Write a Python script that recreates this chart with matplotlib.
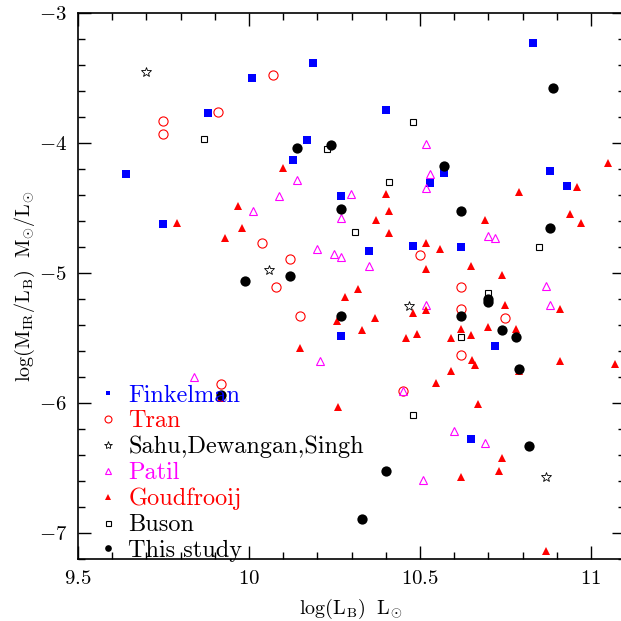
import matplotlib
matplotlib.use("Agg")
import matplotlib.pyplot as plt
from matplotlib.lines import Line2D
from matplotlib.ticker import FixedLocator, FixedFormatter, MultipleLocator

plt.rcParams['mathtext.fontset'] = 'cm'
plt.rcParams['font.family'] = ['cmr10', 'DejaVu Serif']
plt.rcParams['axes.unicode_minus'] = False

# ---------------- data ----------------
fink_x = [9.64, 9.748, 9.88, 10.009, 10.128, 10.169, 10.188, 10.268, 10.268, 10.351,
          10.40, 10.48, 10.529, 10.569, 10.62, 10.649, 10.719, 10.829, 10.88, 10.929]
fink_y = [-4.24, -4.626, -3.77, -3.505, -4.13, -3.98, -3.39, -4.41, -5.485, -4.83,
          -3.75, -4.79, -4.31, -4.235, -4.80, -6.277, -5.56, -3.23, -4.22, -4.33]

tran_x = [9.749, 9.749, 9.909, 9.919, 10.039, 10.069, 10.079, 10.12, 10.15, 10.449,
          10.50, 10.62, 10.62, 10.62, 10.75]
tran_y = [-3.83, -3.93, -3.76, -5.856, -4.77, -3.482, -5.11, -4.89, -5.33, -5.905,
          -4.864, -5.11, -5.28, -5.63, -5.343]

sahu_x = [9.699, 10.058, 10.469, 10.868]
sahu_y = [-3.456, -4.974, -5.254, -6.569]

patil_x = [9.839, 10.011, 10.089, 10.139, 10.20, 10.208, 10.249, 10.269, 10.27, 10.298,
           10.35, 10.449, 10.51, 10.519, 10.519, 10.519, 10.529, 10.599, 10.69, 10.699,
           10.72, 10.868, 10.879]
patil_y = [-5.80, -4.525, -4.41, -4.282, -4.815, -5.677, -4.856, -4.577, -4.877, -4.394,
           -4.946, -5.91, -6.59, -4.012, -4.345, -5.248, -4.24, -6.215, -6.308, -4.715,
           -4.728, -5.097, -5.248]

goud_x = [9.789, 9.919, 9.93, 9.968, 9.98, 10.098, 10.149, 10.258, 10.259, 10.28,
          10.32, 10.329, 10.369, 10.37, 10.40, 10.409, 10.409, 10.459, 10.48, 10.49,
          10.519, 10.519, 10.519, 10.547, 10.559, 10.59, 10.59, 10.62, 10.62, 10.65,
          10.65, 10.651, 10.661, 10.67, 10.69, 10.70, 10.73, 10.739, 10.74, 10.749,
          10.78, 10.79, 10.79, 10.868, 10.91, 10.91, 10.94, 10.959, 10.97, 11.05,
          11.07]
goud_y = [-4.615, -5.96, -4.728, -4.485, -4.656, -4.19, -5.58, -5.369, -6.03, -5.185,
          -5.125, -5.438, -5.346, -4.595, -4.395, -4.525, -4.69, -5.497, -5.307, -5.465,
          -4.771, -4.966, -5.287, -5.843, -4.815, -5.497, -5.753, -5.43, -6.569, -4.946,
          -5.477, -5.672, -5.71, -6.01, -4.595, -5.415, -6.52, -6.42, -5.018, -5.248,
          -5.43, -4.374, -5.756, -7.138, -5.274, -5.68, -4.546, -4.343, -4.613, -4.154,
          -5.70]

buson_x = [9.869, 10.227, 10.309, 10.409, 10.48, 10.48, 10.62, 10.70, 10.849]
buson_y = [-3.972, -4.05, -4.685, -4.30, -3.838, -6.094, -5.495, -5.152, -4.80]

this_x = [9.919, 9.989, 10.12, 10.139, 10.24, 10.269, 10.269, 10.329, 10.40, 10.569,
          10.62, 10.62, 10.70, 10.70, 10.74, 10.78, 10.789, 10.818, 10.879, 10.89]
this_y = [-5.934, -5.06, -5.02, -4.04, -4.018, -4.512, -5.333, -6.889, -6.525, -4.18,
          -4.523, -5.333, -5.197, -5.223, -5.436, -5.495, -5.735, -6.328, -4.654, -3.58]

labels = ['Finkelman', 'Tran', 'Sahu,Dewangan,Singh', 'Patil', 'Goudfrooij', 'Buson', 'This study']
colors = ['#0000ff', '#ff0000', '#000000', '#ff00ff', '#ff0000', '#000000', '#000000']

x_ticks = [9.5, 10, 10.5, 11]
x_tick_labels = ['9.5', '10', '10.5', '11']
y_ticks = [-3, -4, -5, -6, -7]
y_tick_labels = ['-3', '-4', '-5', '-6', '-7']

# ---------------- figure ----------------
fig = plt.figure(figsize=(6.21, 6.21), dpi=100)
ax = fig.add_axes([78 / 621, 1 - 559.3 / 621, (624.5 - 78) / 621, (559.3 - 12.7) / 621])

series = [
    (fink_x, fink_y, dict(marker='s', ms=5.4, mfc=colors[0], mec=colors[0], mew=0)),
    (tran_x, tran_y, dict(marker='o', ms=6.6, mfc='none', mec=colors[1], mew=0.8)),
    (sahu_x, sahu_y, dict(marker='*', ms=7.5, mfc='none', mec=colors[2], mew=0.6)),
    (patil_x, patil_y, dict(marker='^', ms=6.0, mfc='none', mec=colors[3], mew=0.8)),
    (goud_x, goud_y, dict(marker='^', ms=5.8, mfc=colors[4], mec=colors[4], mew=0)),
    (buson_x, buson_y, dict(marker='s', ms=5.0, mfc='none', mec=colors[5], mew=0.8)),
    (this_x, this_y, dict(marker='o', ms=7.4, mfc=colors[6], mec=colors[6], mew=0)),
]
for xs, ys, st in series:
    ax.plot(xs, ys, ls='none', clip_on=False, **st)

ax.set_xlim(9.5, 11.098)
ax.set_ylim(-7.2, -3)

ax.xaxis.set_major_locator(FixedLocator(x_ticks))
ax.xaxis.set_major_formatter(FixedFormatter(['$%s$' % t for t in x_tick_labels]))
ax.yaxis.set_major_locator(FixedLocator(y_ticks))
ax.yaxis.set_major_formatter(FixedFormatter(['$%s$' % t for t in y_tick_labels]))
ax.xaxis.set_minor_locator(MultipleLocator(0.1))
ax.yaxis.set_minor_locator(MultipleLocator(0.2))
ax.tick_params(which='both', direction='in', top=True, right=True, width=1.0)
ax.tick_params(which='major', length=9.5, labelsize=15, pad=8)
ax.tick_params(which='minor', length=5)
for sp in ax.spines.values():
    sp.set_linewidth(1.2)

ax.set_xlabel(r'$\mathrm{log(L_{B})\ \ L_{\odot}}$', fontsize=14.5, labelpad=6)
ax.set_ylabel(r'$\mathrm{log(M_{IR}/L_{B})\ \ M_{\odot}/L_{\odot}}$', fontsize=14.5, labelpad=1)

handles = [
    Line2D([], [], ls='none', marker='s', ms=3.2, mfc=colors[0], mec=colors[0], mew=0),
    Line2D([], [], ls='none', marker='o', ms=5.0, mfc='none', mec=colors[1], mew=0.8),
    Line2D([], [], ls='none', marker='*', ms=6.0, mfc='none', mec=colors[2], mew=0.6),
    Line2D([], [], ls='none', marker='^', ms=4.6, mfc='none', mec=colors[3], mew=0.8),
    Line2D([], [], ls='none', marker='^', ms=4.2, mfc=colors[4], mec=colors[4], mew=0),
    Line2D([], [], ls='none', marker='s', ms=3.6, mfc='none', mec=colors[5], mew=0.8),
    Line2D([], [], ls='none', marker='o', ms=4.8, mfc=colors[6], mec=colors[6], mew=0),
]
leg = ax.legend(handles, labels, loc='upper left', bbox_to_anchor=(0.042, 0.320),
                frameon=False, borderpad=0, borderaxespad=0, handlelength=0.6,
                handletextpad=0.52, labelspacing=0.15, prop=dict(family='cmr10', size=17.5),
                labelcolor=colors)

fig.savefig('out.png', dpi=100)
